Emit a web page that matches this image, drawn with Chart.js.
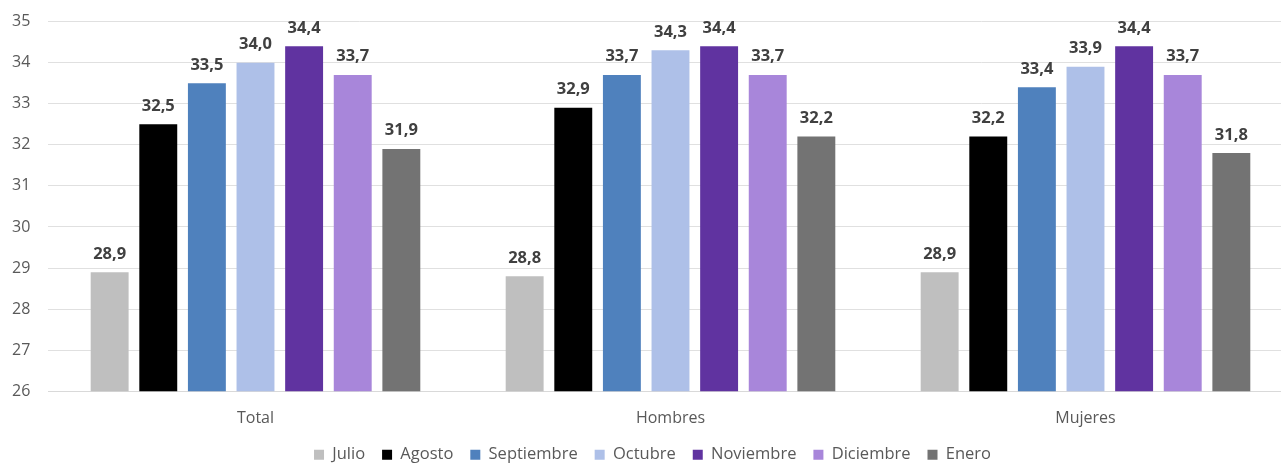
<!DOCTYPE html>
<html>
<head>
<meta charset="utf-8">
<script src="https://cdn.jsdelivr.net/npm/chart.js@4/dist/chart.umd.min.js"></script>
<style>
  html, body { margin: 0; padding: 0; background: #fff; overflow: hidden; }
  #wrap { width: 1281px; height: 466px; overflow: hidden; }
</style>
</head>
<body>
<div id="wrap"><canvas id="chart" width="1320" height="466"></canvas></div>
<script>
const categories = ['Total', 'Hombres', 'Mujeres'];
const months = ['Julio', 'Agosto', 'Septiembre', 'Octubre', 'Noviembre', 'Diciembre', 'Enero'];
const julio = [28.9, 28.8, 28.9];
const agosto = [32.5, 32.9, 32.2];
const septiembre = [33.5, 33.7, 33.4];
const octubre = [34.0, 34.3, 33.9];
const noviembre = [34.4, 34.4, 34.4];
const diciembre = [33.7, 33.7, 33.7];
const enero = [31.9, 32.2, 31.8];

const series = [julio, agosto, septiembre, octubre, noviembre, diciembre, enero];
const colors = ['#bfbfbf', '#000000', '#4f81bd', '#aec0e8', '#6033a0', '#a886da', '#737373'];
const FONT = "'Open Sans', 'Noto Sans', sans-serif";

// value labels above each bar, comma as decimal separator
const barLabels = {
  id: 'barLabels',
  afterDatasetsDraw(chart) {
    const ctx = chart.ctx;
    ctx.save();
    ctx.font = 'bold 16.5px ' + FONT;
    ctx.fillStyle = '#404040';
    ctx.textAlign = 'center';
    ctx.textBaseline = 'bottom';
    chart.data.datasets.forEach((ds, i) => {
      chart.getDatasetMeta(i).data.forEach((bar, j) => {
        ctx.fillText(ds.data[j].toFixed(1).replace('.', ','), bar.x, bar.y - 10);
      });
    });
    ctx.restore();
  }
};

// legend sits a bit tighter under the axis labels than Chart.js pads it
const legendNudge = {
  id: 'legendNudge',
  afterLayout(chart) {
    chart.legend.top -= 8;
    chart.legend.bottom -= 8;
  }
};

new Chart(document.getElementById('chart').getContext('2d'), {
  type: 'bar',
  data: {
    labels: categories,
    datasets: months.map((m, i) => ({
      label: m, data: series[i], backgroundColor: colors[i],
      barPercentage: 0.78, categoryPercentage: 0.82
    }))
  },
  options: {
    responsive: false, animation: false,
    layout: { padding: { top: 0, right: 27, left: 12, bottom: -15 } },
    plugins: {
      legend: {
        position: 'bottom',
        labels: { font: { family: FONT, size: 16.5 }, color: '#595959', boxWidth: 10, boxHeight: 10, padding: 17 }
      },
      tooltip: { enabled: false }
    },
    scales: {
      x: {
        grid: { display: false },
        border: { color: '#d9d9d9' },
        ticks: { font: { family: FONT, size: 16 }, color: '#595959', padding: 9.5 }
      },
      y: {
        min: 26, max: 35,
        ticks: { stepSize: 1, font: { family: FONT, size: 16 }, color: '#595959', padding: 12, crossAlign: 'far' },
        grid: { color: '#e0e0e0', drawTicks: false },
        border: { display: false },
        afterFit: s => { s.width = 36; }
      }
    }
  },
  plugins: [barLabels, legendNudge]
});
</script>
</body>
</html>
